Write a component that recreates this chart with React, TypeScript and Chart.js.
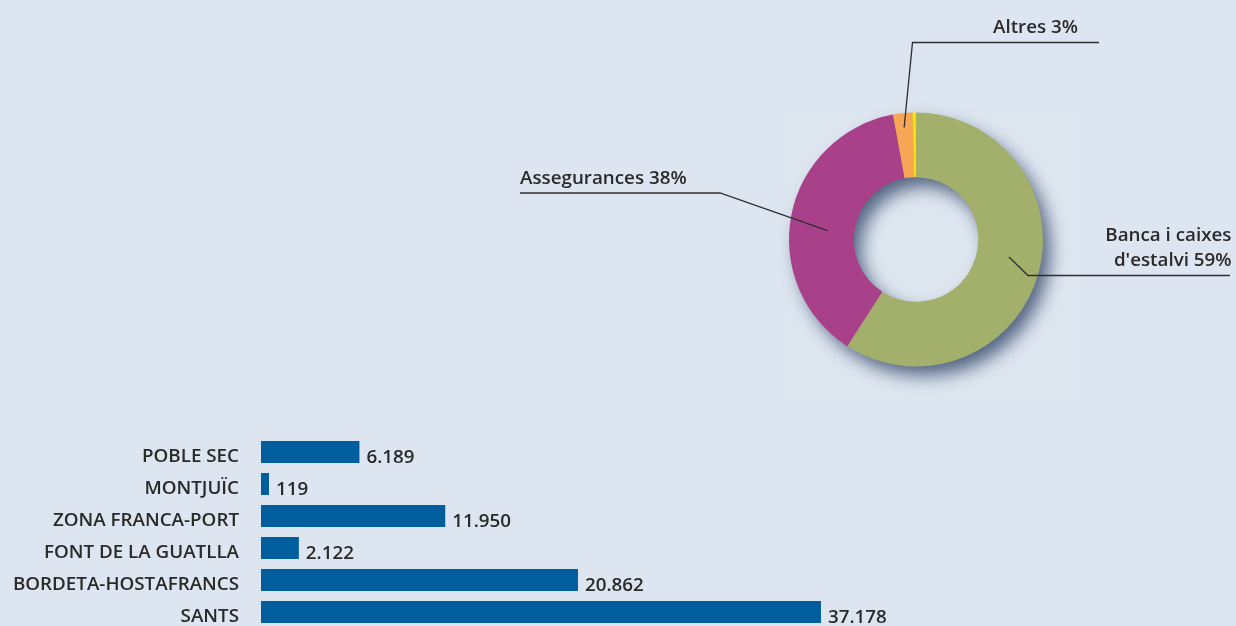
import React, { useEffect, useRef } from "react";
import { Chart, registerables } from "chart.js";

Chart.register(...registerables);

// ---------- data ----------
const donutCategories = ["Banca i caixes d'estalvi", "Assegurances", "Altres", "Altres (2)"];
const donutValues = [59.1, 38, 2.45, 0.45];
const donutColors = ["#a2b06b", "#a8408a", "#f6a655", "#ffe000"];
const donutLabelLines = [["Banca i caixes", "d'estalvi 59%"], ["Assegurances 38%"], ["Altres 3%"]];

const barCategories = [
  "POBLE SEC",
  "MONTJUÏC",
  "ZONA FRANCA-PORT",
  "FONT DE LA GUATLLA",
  "BORDETA-HOSTAFRANCS",
  "SANTS",
];
const barValues = [6189, 119, 11950, 2122, 20862, 37178];
const barAxisMin = -420;
const barAxisMax = 40000;

// ---------- styles ----------
const BG = "#dde5f0";
const TEXT = "#2a2a2a";
const FONT_FAMILY = "'Open Sans', 'Noto Sans', sans-serif";
const FONT_SIZE = 18.8;
const FONT = `600 ${FONT_SIZE}px ${FONT_FAMILY}`;
const BAR_COLOR = "#005e9f";

// leader-line layout (relative to donut centre, px)
// idx: arc index, t: fraction along arc angle, f: radial fraction in the ring
const labelLayout = [
  { idx: 0, t: 0.473, f: 0.5, elbow: [112, 36], endX: 314, align: "right", textX: 315.5, baselines: [-35, -10] },
  { idx: 1, t: 0.46, f: 0.41, elbow: [-196, -46.5], endX: -396, align: "left", textX: -396, baselines: [-9.5] },
  { idx: 2, t: 0.5, f: 0.78, elbow: [-3.5, -197], endX: 183, align: "right", textX: 162, baselines: [-9.4] },
];

function fmt(v: number): string {
  return String(v).replace(/\B(?=(\d{3})+(?!\d))/g, ".");
}

const donutShadowPlugin = {
  id: "donutShadow",
  beforeDatasetsDraw(chart: any) {
    const meta = chart.getDatasetMeta(0);
    const arc = meta.data[0];
    if (!arc) return;
    const { x, y, innerRadius, outerRadius } = arc.getProps(["x", "y", "innerRadius", "outerRadius"], true);
    const ctx = chart.ctx as CanvasRenderingContext2D;
    // faint lighter panel behind the donut
    ctx.save();
    ctx.fillStyle = "rgba(255,255,255,0.05)";
    ctx.fillRect(x - outerRadius - 1, y - outerRadius - 1, outerRadius + 163, outerRadius * 2 + 35);
    ctx.restore();
    // drop shadow of the ring
    ctx.save();
    ctx.shadowColor = "rgba(45,65,100,0.8)";
    ctx.shadowBlur = 18;
    ctx.shadowOffsetX = 8;
    ctx.shadowOffsetY = 10;
    ctx.beginPath();
    ctx.arc(x, y, outerRadius - 1, 0, Math.PI * 2);
    ctx.arc(x, y, innerRadius + 1, 0, Math.PI * 2, true);
    ctx.closePath();
    ctx.fillStyle = donutColors[0];
    ctx.fill("evenodd");
    ctx.restore();
  },
};

const donutLabelPlugin = {
  id: "donutLabels",
  afterDatasetsDraw(chart: any) {
    const meta = chart.getDatasetMeta(0);
    const ctx = chart.ctx as CanvasRenderingContext2D;
    ctx.save();
    ctx.strokeStyle = "#2f2f2f";
    ctx.lineWidth = 1.3;
    ctx.fillStyle = TEXT;
    ctx.font = FONT;
    labelLayout.forEach((lay, i) => {
      const arc = meta.data[lay.idx];
      if (!arc) return;
      const p = arc.getProps(["x", "y", "startAngle", "endAngle", "innerRadius", "outerRadius"], true);
      const a = p.startAngle + (p.endAngle - p.startAngle) * lay.t;
      const r = p.innerRadius + (p.outerRadius - p.innerRadius) * lay.f;
      const ax = p.x + Math.cos(a) * r;
      const ay = p.y + Math.sin(a) * r;
      const ex = p.x + lay.elbow[0];
      const ey = p.y + lay.elbow[1];
      const lx = p.x + lay.endX;
      ctx.beginPath();
      ctx.moveTo(ax, ay);
      ctx.lineTo(ex, ey);
      ctx.lineTo(lx, ey);
      ctx.stroke();
      ctx.textAlign = lay.align as CanvasTextAlign;
      ctx.textBaseline = "alphabetic";
      donutLabelLines[i].forEach((line, j) => {
        ctx.fillText(line, p.x + lay.textX, ey + lay.baselines[j]);
      });
    });
    ctx.restore();
  },
};

const barValuePlugin = {
  id: "barValues",
  afterDatasetsDraw(chart: any) {
    const meta = chart.getDatasetMeta(0);
    const ctx = chart.ctx as CanvasRenderingContext2D;
    ctx.save();
    ctx.fillStyle = TEXT;
    ctx.font = FONT;
    ctx.textAlign = "left";
    ctx.textBaseline = "alphabetic";
    meta.data.forEach((bar: any, i: number) => {
      const { x, y, height } = bar.getProps(["x", "y", "height"], true);
      ctx.fillText(fmt(barValues[i]), x + 7, y + height / 2);
    });
    ctx.restore();
  },
};

function DonutChart() {
  const ref = useRef<HTMLCanvasElement>(null);
  useEffect(() => {
    if (!ref.current) return;
    const chart = new Chart(ref.current, {
      type: "doughnut",
      data: {
        labels: donutCategories,
        datasets: [
          {
            data: donutValues,
            backgroundColor: donutColors,
            borderWidth: 0,
            hoverOffset: 0,
            spacing: 0,
          },
        ],
      },
      options: {
        responsive: false,
        animation: false,
        cutout: "49%",
        layout: { padding: { left: 789, right: 193, top: 112.5, bottom: 53.5 } },
        plugins: { legend: { display: false }, tooltip: { enabled: false } },
        events: [],
      },
      plugins: [donutShadowPlugin, donutLabelPlugin],
    } as any);
    return () => chart.destroy();
  }, []);
  return <canvas ref={ref} width={1236} height={420} style={{ position: "absolute", left: 0, top: 0 }} />;
}

function BarChart() {
  const ref = useRef<HTMLCanvasElement>(null);
  useEffect(() => {
    if (!ref.current) return;
    const chart = new Chart(ref.current, {
      type: "bar",
      data: {
        labels: barCategories,
        datasets: [
          {
            data: barValues,
            base: barAxisMin,
            backgroundColor: BAR_COLOR,
            borderWidth: 0,
            categoryPercentage: 1,
            barPercentage: 0.6875,
          },
        ],
      },
      options: {
        indexAxis: "y",
        responsive: false,
        animation: false,
        layout: { padding: { left: 0, right: 373, top: 20, bottom: 20 } },
        plugins: { legend: { display: false }, tooltip: { enabled: false } },
        events: [],
        scales: {
          x: { display: false, min: barAxisMin, max: barAxisMax },
          y: {
            grid: { display: false, drawTicks: true, tickLength: 22 },
            border: { display: false },
            ticks: {
              color: TEXT,
              font: { family: FONT_FAMILY, size: FONT_SIZE, weight: "600" },
              padding: 0,
              labelOffset: 5,
            },
            afterFit: (scale: any) => {
              scale.width = 261;
            },
          },
        },
      },
      plugins: [barValuePlugin],
    } as any);
    return () => chart.destroy();
  }, []);
  return <canvas ref={ref} width={1236} height={232} style={{ position: "absolute", left: 0, top: 416 }} />;
}

export default function App() {
  return (
    <div
      style={{
        position: "fixed",
        left: 0,
        top: 0,
        width: 1236,
        height: 626,
        overflow: "hidden",
        background: BG,
      }}
    >
      <DonutChart />
      <BarChart />
    </div>
  );
}
